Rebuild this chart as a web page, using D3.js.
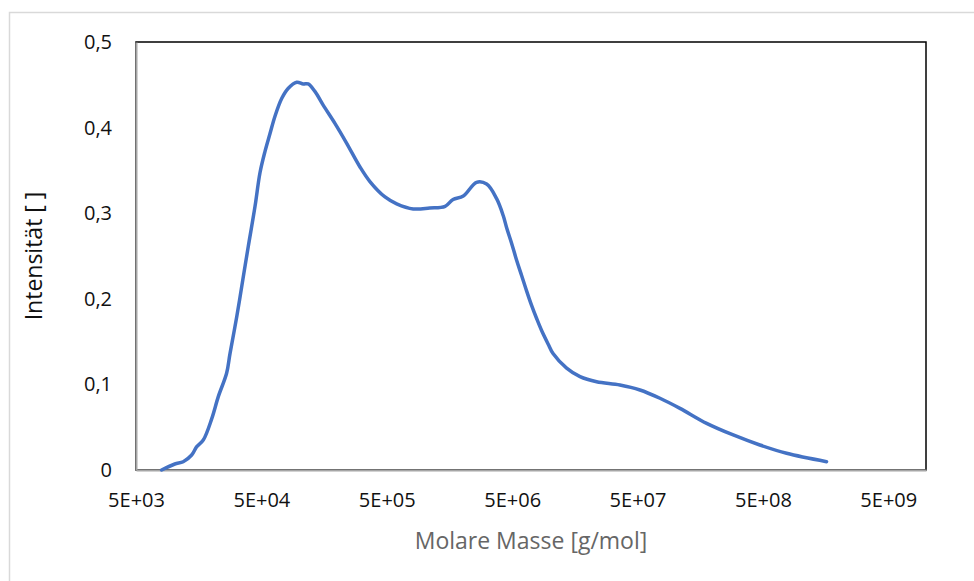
<html>
<head>
    <script src="https://d3js.org/d3.v7.min.js"></script>
    <style>
        body { margin: 0; background: #fff; }
        svg text { font-family: "Open Sans", sans-serif; }
    </style>
</head>
<body>
<script>
    // molar mass [g/mol]
    var masse = [8.0e3, 1.02e4, 1.19e4, 1.39e4, 1.52e4, 1.72e4, 2.01e4, 2.27e4, 2.64e4, 2.81e4,
        3.18e4, 3.59e4, 3.93e4, 4.45e4, 4.87e4, 5.34e4, 5.86e4, 6.41e4, 7.26e4, 8.20e4,
        9.57e4, 1.08e5, 1.18e5, 1.34e5, 1.56e5, 1.93e5, 2.39e5, 3.06e5, 3.67e5, 4.84e5,
        6.00e5, 8.13e5, 1.10e6, 1.46e6, 1.69e6, 2.04e6, 2.60e6, 3.13e6, 3.76e6, 4.25e6,
        4.52e6, 4.95e6, 5.43e6, 5.96e6, 6.53e6, 7.16e6, 7.84e6, 8.59e6, 9.70e6, 1.06e7,
        1.36e7, 1.74e7, 2.36e7, 3.62e7, 5.23e7, 7.55e7, 1.09e8, 1.78e8, 2.90e8, 4.73e8,
        7.73e8, 1.61e9];
    var intensitaet = [0, 0.007, 0.0097, 0.0175, 0.027, 0.035, 0.060, 0.086, 0.113, 0.136,
        0.179, 0.226, 0.261, 0.308, 0.347, 0.372, 0.393, 0.413, 0.434, 0.446,
        0.453, 0.451, 0.451, 0.442, 0.426, 0.405, 0.382, 0.354, 0.337, 0.319,
        0.311, 0.305, 0.306, 0.308, 0.316, 0.320, 0.336, 0.334, 0.317, 0.297,
        0.283, 0.265, 0.245, 0.227, 0.209, 0.192, 0.177, 0.163, 0.147, 0.136,
        0.119, 0.109, 0.103, 0.0993, 0.0935, 0.0838, 0.072, 0.0545, 0.0409, 0.0292,
        0.0195, 0.0097];
    var xTicks = [5e3, 5e4, 5e5, 5e6, 5e7, 5e8, 5e9];
    var yTicks = [0, 0.1, 0.2, 0.3, 0.4, 0.5];

    var width = 974, height = 581;
    var mLeft = 136, mRight = 926, mTop = 42, mBottom = 470;

    var x = d3.scaleLog().domain([5e3, 1e10]).range([mLeft, mRight]);
    var y = d3.scaleLinear().domain([0, 0.5]).range([mBottom, mTop]);

    var svg = d3.select("body").append("svg")
        .attr("width", width)
        .attr("height", height);

    // chart border
    svg.append("rect")
        .attr("x", 9.5).attr("y", 12.5)
        .attr("width", 1000).attr("height", 600)
        .attr("fill", "#fff")
        .attr("stroke", "#d9d9d9")
        .attr("stroke-width", 1.5);

    // plot area border
    svg.append("rect")
        .attr("x", mLeft).attr("y", mTop)
        .attr("width", mRight - mLeft).attr("height", mBottom - mTop)
        .attr("fill", "none")
        .attr("stroke", "#000")
        .attr("stroke-width", 1.5);

    var fmtX = function (d) {
        var s = d.toExponential(0).toUpperCase().split("E");
        var e = +s[1];
        return s[0] + "E" + (e < 0 ? "-" : "+") + (Math.abs(e) < 10 ? "0" : "") + Math.abs(e);
    };
    var fmtY = function (d) { return d === 0 ? "0" : String(d).replace(".", ","); };

    var gx = svg.append("g")
        .attr("transform", "translate(0," + mBottom + ")")
        .call(d3.axisBottom(x).tickValues(xTicks).tickFormat(fmtX).tickSize(0));
    gx.select(".domain").attr("stroke", "#a6a6a6").attr("stroke-width", 2);
    gx.selectAll("text")
        .attr("y", 30).attr("dy", "0.35em")
        .attr("font-size", 20).attr("fill", "#111")
        .style("font-family", "Open Sans, sans-serif");

    var gy = svg.append("g")
        .attr("transform", "translate(" + mLeft + ",0)")
        .call(d3.axisLeft(y).tickValues(yTicks).tickFormat(fmtY).tickSize(0).tickPadding(24));
    gy.select(".domain").attr("stroke", "#a6a6a6").attr("stroke-width", 2);
    gy.selectAll("text")
        .attr("font-size", 20).attr("fill", "#111")
        .style("font-family", "Open Sans, sans-serif");

    var data = masse.map(function (m, i) { return [m, intensitaet[i]]; });

    svg.append("path")
        .datum(data)
        .attr("fill", "none")
        .attr("stroke", "#4472c4")
        .attr("stroke-width", 3.5)
        .attr("stroke-linejoin", "round")
        .attr("stroke-linecap", "round")
        .attr("d", d3.line()
            .x(function (d) { return x(d[0]); })
            .y(function (d) { return y(d[1]); })
            .curve(d3.curveCatmullRom.alpha(0.5)));

    svg.append("text")
        .attr("x", (mLeft + mRight) / 2)
        .attr("y", 541)
        .attr("dy", "0.35em")
        .attr("text-anchor", "middle")
        .attr("font-size", 23)
        .attr("fill", "#666")
        .text("Molare Masse [g/mol]");

    svg.append("text")
        .attr("transform", "translate(34," + (mTop + mBottom) / 2 + ") rotate(-90)")
        .attr("dy", "0.35em")
        .attr("text-anchor", "middle")
        .attr("font-size", 23)
        .attr("fill", "#111")
        .text("Intensität [ ]");
</script>
</body>
</html>
